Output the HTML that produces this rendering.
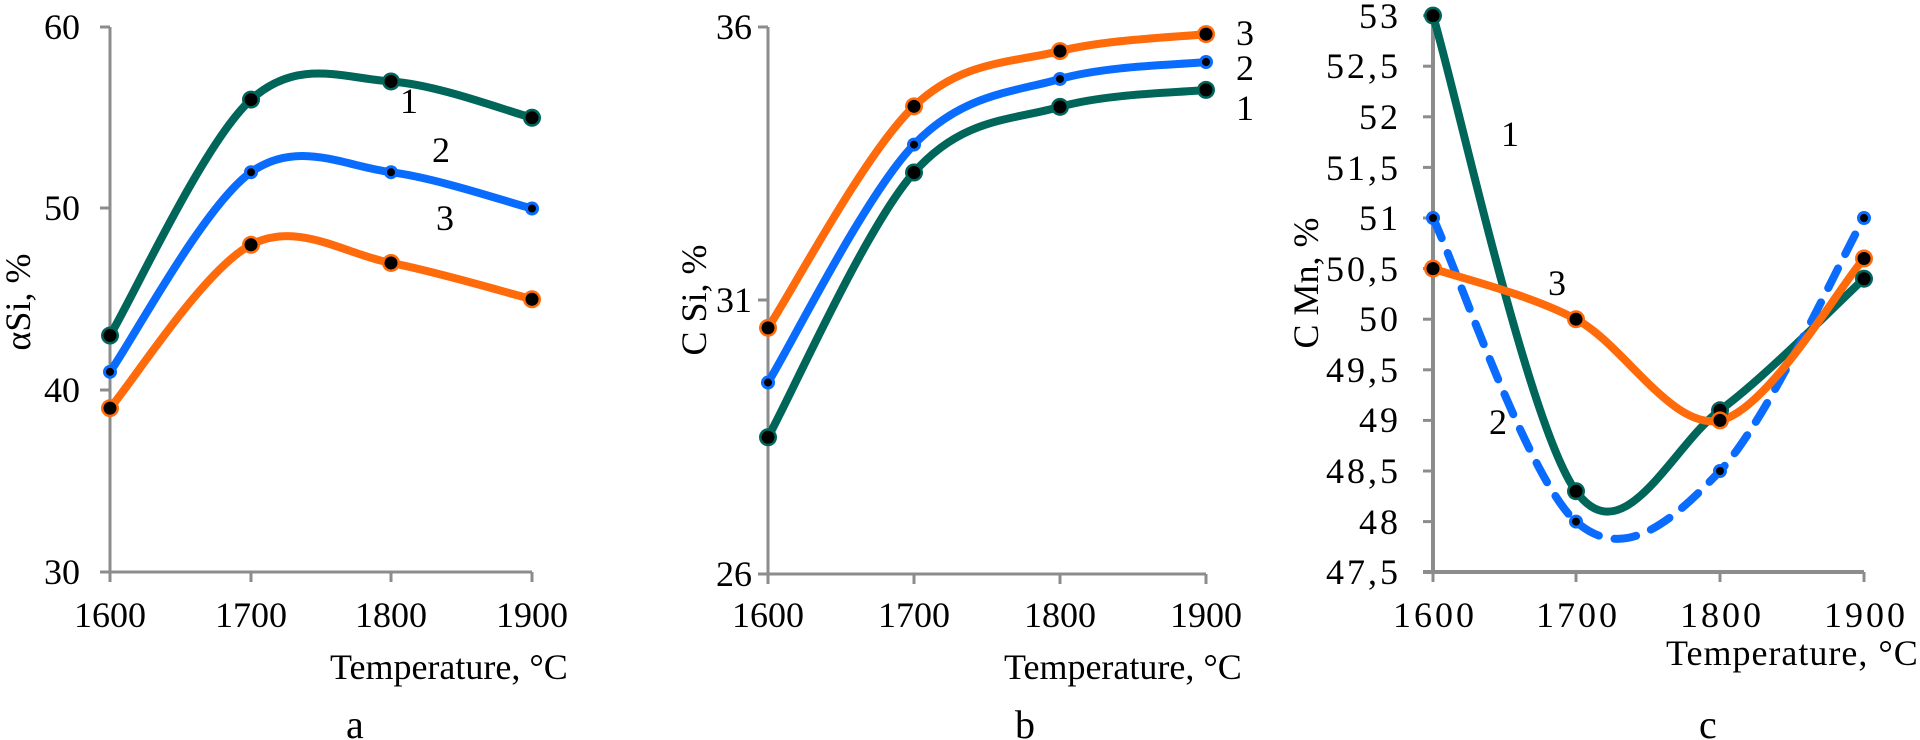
<!DOCTYPE html>
<html><head><meta charset="utf-8"><style>
html,body{margin:0;padding:0;background:#fff;}
svg{display:block;}
text{font-family:"Liberation Serif",serif;fill:#000;}
</style></head><body>
<svg id="s" width="1920" height="740" viewBox="0 0 1920 740" xmlns="http://www.w3.org/2000/svg">
<g id="axes" stroke="#8c8c8c" stroke-width="3" fill="none"></g>
<g id="curves" fill="none" stroke-linecap="round"></g>
<g id="marks"></g>
<g font-size="36">
<!-- chart a -->
<g text-anchor="end">
<text x="80" y="39">60</text><text x="80" y="220">50</text><text x="80" y="402">40</text><text x="80" y="584">30</text>
</g>
<g text-anchor="middle">
<text x="110" y="627">1600</text><text x="251" y="627">1700</text><text x="391" y="627">1800</text><text x="532" y="627">1900</text>
</g>
<text x="330" y="679">Temperature, °C</text>
<text x="346" y="738" font-size="40">a</text>
<text transform="translate(30,302) rotate(-90)" text-anchor="middle">αSi, %</text>
<text x="400" y="113">1</text><text x="432" y="162">2</text><text x="436" y="230">3</text>
<!-- chart b -->
<g text-anchor="end">
<text x="752" y="39">36</text><text x="752" y="312">31</text><text x="752" y="586">26</text>
</g>
<g text-anchor="middle">
<text x="768" y="627">1600</text><text x="914" y="627">1700</text><text x="1060" y="627">1800</text><text x="1206" y="627">1900</text>
</g>
<text x="1004" y="679">Temperature, °C</text>
<text x="1015" y="738" font-size="40">b</text>
<text transform="translate(706,300) rotate(-90)" text-anchor="middle">C Si, %</text>
<text x="1236" y="45">3</text><text x="1236" y="80">2</text><text x="1236" y="120">1</text>
<!-- chart c -->
<g text-anchor="end" letter-spacing="3">
<text x="1401" y="28">53</text><text x="1401" y="78">52,5</text><text x="1401" y="129">52</text><text x="1401" y="180">51,5</text><text x="1401" y="230">51</text><text x="1401" y="281">50,5</text><text x="1401" y="331">50</text><text x="1401" y="382">49,5</text><text x="1401" y="432">49</text><text x="1401" y="483">48,5</text><text x="1401" y="534">48</text><text x="1401" y="584">47,5</text>
</g>
<g text-anchor="middle" letter-spacing="3">
<text x="1435" y="627">1600</text><text x="1578" y="627">1700</text><text x="1722" y="627">1800</text><text x="1866" y="627">1900</text>
</g>
<text x="1666" y="665" letter-spacing="1">Temperature, °C</text>
<text x="1699" y="738" font-size="40">c</text>
<text transform="translate(1318,283) rotate(-90)" text-anchor="middle">C Mn, %</text>
<text x="1501" y="146">1</text><text x="1548" y="295">3</text><text x="1489" y="434">2</text>
</g>
</svg>
<script>
var NS="http://www.w3.org/2000/svg";
function el(p,t,a){var e=document.createElementNS(NS,t);for(var k in a)e.setAttribute(k,a[k]);document.getElementById(p).appendChild(e);return e;}
function axis(x0,x1,yTop,yBot,ticksY,ticksX,sw){
 el('axes','line',{x1:x0,y1:yTop,x2:x0,y2:yBot,'stroke-width':sw||3});
 el('axes','line',{x1:x0-10,y1:yBot,x2:x1,y2:yBot,'stroke-width':sw||3});
 ticksY.forEach(function(y){el('axes','line',{x1:x0-10,y1:y,x2:x0,y2:y});});
 ticksX.forEach(function(x){el('axes','line',{x1:x,y1:yBot,x2:x,y2:yBot+10});});
}
function path(pts){
 var d="M"+pts[0][0]+","+pts[0][1];
 for(var i=0;i<pts.length-1;i++){
  var p0=pts[i-1]||pts[i],p1=pts[i],p2=pts[i+1],p3=pts[i+2]||p2,t=6;
  var c1=[p1[0]+(p2[0]-p0[0])/t,p1[1]+(p2[1]-p0[1])/t];
  var c2=[p2[0]-(p3[0]-p1[0])/t,p2[1]-(p3[1]-p1[1])/t];
  d+=" C"+c1+" "+c2+" "+p2;
 }
 return d;
}
function series(xs,ys,col,big,dash){
 var pts=xs.map(function(x,i){return [x,ys[i]];});
 var a={d:path(pts),stroke:col,'stroke-width':8};
 if(dash){a['stroke-dasharray']='22 16';}
 el('curves','path',a);
 pts.forEach(function(p){
  el('marks','circle',{cx:p[0],cy:p[1],r:big?9:7,fill:col});
  el('marks','circle',{cx:p[0],cy:p[1],r:big?6.5:4,fill:'#000'});
 });
}
var T="#00665a",B="#0a6cff",O="#ff6a0a";
var xa=[110,251,391,532]; function ya(v){return 27+(60-v)*18.15;}
axis(110,532,27,572,[27,208,390,572],xa);
series(xa,[43,56,57,55].map(ya),T,true);
series(xa,[41,52,52,50].map(ya),B,false);
series(xa,[39,48,47,45].map(ya),O,true);
var xb=[768,914,1060,1206]; function yb(v){return 27+(36-v)*54.7;}
axis(768,1206,27,574,[27,300,574],xb);
series(xb,[28.5,33.34,34.54,34.85].map(yb),T,true);
series(xb,[29.5,33.85,35.05,35.36].map(yb),B,false);
series(xb,[30.5,34.55,35.56,35.87].map(yb),O,true);
var xc=[1433,1576,1720,1864]; function yc(v){return 15.6+(53-v)*101.2;}
var tc=[];for(var i=0;i<12;i++)tc.push(15.6+i*50.6);
axis(1433,1864,15.6,572,tc,xc,4);
series(xc,[53,48.3,49.1,50.4].map(yc),T,true);
series(xc,[51,48,48.5,51].map(yc),B,false,true);
series(xc,[50.5,50,49,50.6].map(yc),O,true);
</script>
</body></html>
